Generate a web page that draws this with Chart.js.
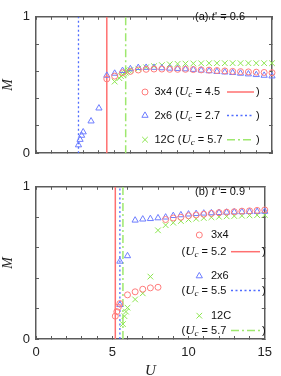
<!DOCTYPE html>
<html>
<head>
<meta charset="utf-8">
<script src="https://cdn.jsdelivr.net/npm/chart.js@4.4.1/dist/chart.umd.min.js"></script>
<style>
  html, body { margin: 0; padding: 0; background: #fff; }
  canvas { position: absolute; left: 0; }
</style>
</head>
<body>
<canvas id="chartA" width="281" height="170" style="top:0"></canvas>
<canvas id="chartB" width="281" height="206" style="top:170px"></canvas>
<script>
// ===== (a) t' = 0.6 =====
const uA3x4 = [4.5, 5, 5.5, 6, 6.5, 7, 7.5, 8, 8.5, 9, 9.5, 10, 10.5, 11, 11.5, 12, 12.5, 13, 13.5, 14, 14.5, 15];
const mA3x4 = [0.545, 0.565, 0.59, 0.60, 0.61, 0.615, 0.617, 0.617, 0.615, 0.615, 0.615, 0.613, 0.611, 0.609, 0.606, 0.603, 0.60, 0.598, 0.596, 0.594, 0.592, 0.59];
const uA2x6 = [2.7, 2.8, 2.9, 3.0, 3.5, 4.0, 4.5, 5, 5.5, 6, 6.5, 7, 7.5, 8, 8.5, 9, 9.5, 10, 10.5, 11, 11.5, 12, 12.5, 13, 13.5, 14, 14.5, 15];
const mA2x6 = [0.06, 0.10, 0.13, 0.155, 0.235, 0.33, 0.57, 0.585, 0.605, 0.618, 0.627, 0.628, 0.628, 0.625, 0.622, 0.62, 0.617, 0.613, 0.608, 0.603, 0.598, 0.594, 0.59, 0.585, 0.58, 0.575, 0.57, 0.565];
const uA12C = [5.0, 5.3, 5.4, 5.5, 5.6, 5.7, 5.8, 5.9, 6.0, 6.5, 7, 7.5, 8, 8.5, 9, 9.5, 10, 10.5, 11, 11.5, 12, 12.5, 13, 13.5, 14, 14.5, 15];
const mA12C = [0.525, 0.55, 0.565, 0.575, 0.585, 0.59, 0.598, 0.605, 0.61, 0.62, 0.63, 0.638, 0.646, 0.652, 0.655, 0.657, 0.658, 0.659, 0.66, 0.66, 0.66, 0.66, 0.66, 0.66, 0.66, 0.66, 0.66];
const ucA = { c3x4: 4.5, c2x6: 2.7, c12C: 5.7 };

// ===== (b) t' = 0.9 =====
const uB3x4 = [5.2, 5.3, 5.4, 5.5, 6.0, 6.5, 7.0, 7.5, 8.0, 8.5, 9, 9.5, 10, 10.5, 11, 11.5, 12, 12.5, 13, 13.5, 14, 14.5, 15];
const mB3x4 = [0.15, 0.18, 0.21, 0.233, 0.29, 0.31, 0.327, 0.336, 0.34, 0.785, 0.795, 0.80, 0.81, 0.815, 0.82, 0.825, 0.83, 0.833, 0.836, 0.84, 0.842, 0.845, 0.848];
const uB2x6 = [5.5, 5.5, 6.0, 6.5, 7, 7.5, 8, 8.5, 9, 9.5, 10, 10.5, 11, 11.5, 12, 12.5, 13, 13.5, 14, 14.5, 15];
const mB2x6 = [0.225, 0.51, 0.546, 0.78, 0.787, 0.79, 0.795, 0.80, 0.81, 0.815, 0.82, 0.823, 0.826, 0.828, 0.83, 0.832, 0.834, 0.835, 0.836, 0.837, 0.838];
const uB12C = [5.7, 5.8, 5.9, 6.0, 6.5, 7.0, 7.5, 8.0, 8.5, 9, 9.5, 10, 10.5, 11, 11.5, 12, 12.5, 13, 13.5, 14, 14.5, 15];
const mB12C = [0.098, 0.15, 0.18, 0.206, 0.26, 0.30, 0.41, 0.714, 0.748, 0.764, 0.775, 0.785, 0.79, 0.795, 0.80, 0.803, 0.806, 0.808, 0.81, 0.812, 0.814, 0.815];
const ucB = { c3x4: 5.2, c2x6: 5.5, c12C: 5.7 };

const xTicks = [0, 5, 10, 15];
const yTicks = [0, 1];

// ===== estilos =====
const cor3x4 = '#ff7c7c', cor2x6 = '#6d7dff', cor12C = '#8ce650';
const linha3x4 = { cor: '#ff7070', dash: [], largura: 1.5 };
const linha2x6 = { cor: '#4f6cff', dash: [2, 2.5], largura: 1.3 };
const linha12C = { cor: '#9ee86e', dash: [8, 3, 2, 3], largura: 1.5 };
const tracoCor = '#5c5c5c';
const fSans = '11px "Liberation Sans", Arial, sans-serif';
const fIt = 'italic 13px "Liberation Serif", "Times New Roman", serif';
const fSub = 'italic 9px "Liberation Serif", serif';

function linhaVertical(uc, l) {
    return {
        data: [{ x: uc, y: 0 }, { x: uc, y: 1 }],
        showLine: true, pointRadius: 0,
        borderColor: l.cor, borderWidth: l.largura, borderDash: l.dash,
        order: 2
    };
}

function pontos(us, ms, estilo, cor, raio) {
    return {
        data: us.map((u, i) => ({ x: u, y: ms[i] })),
        showLine: false,
        pointStyle: estilo, pointRadius: raio,
        borderColor: cor, pointBorderColor: cor,
        backgroundColor: 'rgba(0,0,0,0)', pointBackgroundColor: 'rgba(0,0,0,0)',
        pointBorderWidth: 1,
        clip: false,
        order: 1
    };
}

function escalas(alturaTopo, alturaBase, comEixoX) {
    const grade = { drawOnChartArea: false, drawTicks: true, tickLength: -3, color: tracoCor, lineWidth: 1 };
    const borda = { color: tracoCor, width: 1.5 };
    const fonteTick = { family: '"Liberation Sans", Arial, sans-serif', size: 13 };
    return {
        x: {
            type: 'linear', position: 'bottom', min: 0, max: 15,
            border: borda, grid: grade,
            ticks: {
                stepSize: 1, autoSkip: false, maxRotation: 0, padding: 9, color: '#222', font: fonteTick,
                callback: v => (comEixoX && xTicks.includes(v)) ? String(v) : ''
            },
            title: {
                display: comEixoX, text: 'U', color: '#222', padding: 0,
                font: { family: '"Liberation Serif", serif', style: 'italic', size: 15, lineHeight: 0.6 }
            },
            afterFit: s => { s.height = alturaBase; }
        },
        x2: {
            type: 'linear', position: 'top', min: 0, max: 15,
            border: borda, grid: grade,
            ticks: { stepSize: 1, autoSkip: false, callback: () => '' },
            afterFit: s => { s.height = alturaTopo; }
        },
        y: {
            type: 'linear', position: 'left', min: 0, max: 1,
            border: borda, grid: grade,
            ticks: {
                stepSize: 0.2, autoSkip: false, padding: 9, color: '#222', font: fonteTick,
                callback: v => yTicks.includes(v) ? String(v) : ''
            },
            title: {
                display: true, text: 'M', color: '#222', padding: 0,
                font: { family: '"Liberation Serif", serif', style: 'italic', size: 14 }
            },
            afterFit: s => { s.width = 36; }
        },
        y2: {
            type: 'linear', position: 'right', min: 0, max: 1,
            border: borda, grid: grade,
            ticks: { stepSize: 0.2, autoSkip: false, callback: () => '' },
            afterFit: s => { s.width = 8; }
        }
    };
}

// ===== textos e legenda =====
// escreve os pedaços um após o outro, a partir de x
function escrever(ctx, x, y, partes) {
    partes.forEach(p => {
        ctx.font = p.f;
        ctx.fillText(p.t, x, y + (p.dy || 0));
        x += ctx.measureText(p.t).width;
    });
    return x;
}

function marcador(ctx, estilo, cor, raio, x, y) {
    ctx.save();
    ctx.strokeStyle = cor;
    ctx.fillStyle = 'rgba(0,0,0,0)';
    ctx.lineWidth = 1;
    Chart.helpers.drawPoint(ctx, { pointStyle: estilo, radius: raio, rotation: 0, borderWidth: 1 }, x, y);
    ctx.restore();
}

function amostra(ctx, x1, x2, y, l) {
    ctx.save();
    ctx.strokeStyle = l.cor;
    ctx.lineWidth = l.largura;
    ctx.setLineDash(l.dash);
    ctx.beginPath();
    ctx.moveTo(x1, y);
    ctx.lineTo(x2, y);
    ctx.stroke();
    ctx.restore();
}

function prepararTexto(ctx) {
    ctx.fillStyle = '#111';
    ctx.textBaseline = 'middle';
    ctx.textAlign = 'left';
}

function titulo(ctx, letra, valor, y) {
    escrever(ctx, 195, y, [
        { t: '(' + letra + ') ', f: fSans },
        { t: 't', f: fIt },
        { t: "' = " + valor, f: fSans }
    ]);
}

function ucTexto(valor) {
    return [
        { t: '(', f: fSans },
        { t: 'U', f: fIt },
        { t: 'c', f: fSub, dy: 3 },
        { t: ' = ' + valor.toFixed(1), f: fSans }
    ];
}

const legendaA = {
    id: 'legendaA',
    afterDraw(chart) {
        const ctx = chart.ctx;
        ctx.save();
        prepararTexto(ctx);
        titulo(ctx, 'a', '0.6', 16.5);
        const linhas = [
            { y: 92, nome: '3x4', uc: ucA.c3x4, estilo: 'circle', cor: cor3x4, raio: 3, l: linha3x4 },
            { y: 115.5, nome: '2x6', uc: ucA.c2x6, estilo: 'triangle', cor: cor2x6, raio: 3.6, l: linha2x6 },
            { y: 139.7, nome: '12C', uc: ucA.c12C, estilo: 'crossRot', cor: cor12C, raio: 4, l: linha12C }
        ];
        linhas.forEach(r => {
            marcador(ctx, r.estilo, r.cor, r.raio, 145, r.y);
            prepararTexto(ctx);
            escrever(ctx, 154.5, r.y, [{ t: r.nome + ' ', f: fSans }].concat(ucTexto(r.uc)));
            escrever(ctx, 256, r.y, [{ t: ')', f: fSans }]);
            amostra(ctx, 227, 254, r.y, r.l);
        });
        ctx.restore();
    }
};

const legendaB = {
    id: 'legendaB',
    afterDraw(chart) {
        const ctx = chart.ctx;
        ctx.save();
        prepararTexto(ctx);
        titulo(ctx, 'b', '0.9', 21.7);
        const linhas = [
            { y: 65, y2: 81.7, nome: '3x4', uc: ucB.c3x4, estilo: 'circle', cor: cor3x4, raio: 3, l: linha3x4 },
            { y: 106, y2: 120.5, nome: '2x6', uc: ucB.c2x6, estilo: 'triangle', cor: cor2x6, raio: 3.6, l: linha2x6 },
            { y: 145.7, y2: 160.5, nome: '12C', uc: ucB.c12C, estilo: 'crossRot', cor: cor12C, raio: 4, l: linha12C }
        ];
        linhas.forEach(r => {
            marcador(ctx, r.estilo, r.cor, r.raio, 199.3, r.y);
            prepararTexto(ctx);
            escrever(ctx, 211, r.y, [{ t: r.nome, f: fSans }]);
            escrever(ctx, 181.5, r.y2, ucTexto(r.uc));
            escrever(ctx, 262, r.y2, [{ t: ')', f: fSans }]);
            amostra(ctx, 231, 260, r.y2, r.l);
        });
        ctx.restore();
    }
};

function criarPainel(id, series, uc, alturaTopo, alturaBase, comEixoX, plugin) {
    new Chart(document.getElementById(id), {
        type: 'scatter',
        data: {
            datasets: [
                linhaVertical(uc.c3x4, linha3x4),
                linhaVertical(uc.c2x6, linha2x6),
                linhaVertical(uc.c12C, linha12C),
                pontos(series.u3x4, series.m3x4, 'circle', cor3x4, 3),
                pontos(series.u2x6, series.m2x6, 'triangle', cor2x6, 3.6),
                pontos(series.u12C, series.m12C, 'crossRot', cor12C, 4)
            ]
        },
        options: {
            responsive: false,
            animation: false,
            layout: { padding: 0 },
            plugins: { legend: { display: false }, tooltip: { enabled: false } },
            scales: escalas(alturaTopo, alturaBase, comEixoX)
        },
        plugins: [plugin]
    });
}

criarPainel('chartA', { u3x4: uA3x4, m3x4: mA3x4, u2x6: uA2x6, m2x6: mA2x6, u12C: uA12C, m12C: mA12C },
    ucA, 4, 7, false, legendaA);
criarPainel('chartB', { u3x4: uB3x4, m3x4: mB3x4, u2x6: uB2x6, m2x6: mB2x6, u12C: uB12C, m12C: mB12C },
    ucB, 9, 37, true, legendaB);
</script>
</body>
</html>
